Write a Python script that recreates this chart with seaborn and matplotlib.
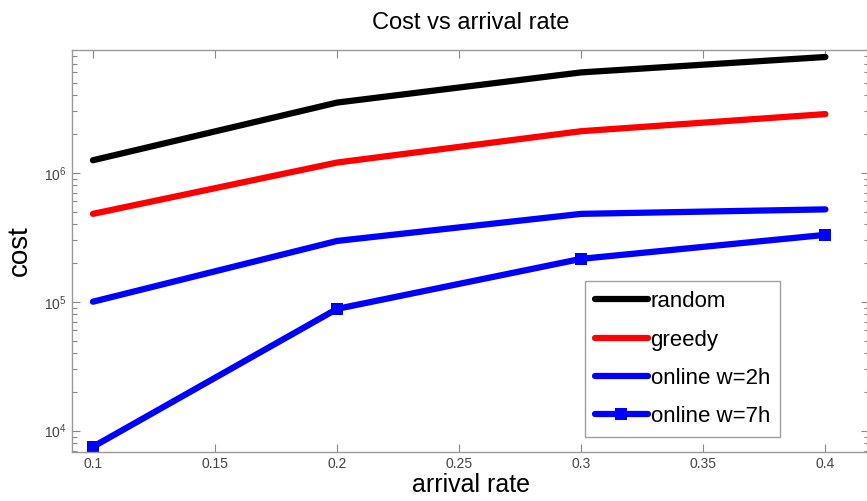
import matplotlib
matplotlib.use("Agg")
import matplotlib.pyplot as plt
import seaborn as sns
import pandas as pd
import numpy as np
from matplotlib.ticker import LogLocator, NullFormatter

arrival_rate = [0.1, 0.2, 0.3, 0.4]
cost_random = [1.25e6, 3.5e6, 6.0e6, 7.9e6]
cost_greedy = [4.8e5, 1.2e6, 2.1e6, 2.85e6]
cost_online_2h = [1.0e5, 2.96e5, 4.8e5, 5.2e5]
cost_online_7h = [7.5e3, 8.8e4, 2.15e5, 3.3e5]
series_names = ["random", "greedy", "online w=2h", "online w=7h"]
x_ticks = [0.1, 0.15, 0.2, 0.25, 0.3, 0.35, 0.4]

sns.set_theme(style="white")
plt.rcParams['font.family'] = ['Liberation Sans', 'DejaVu Sans']

fig = plt.figure(figsize=(8.67, 5.01), dpi=100)
ax = fig.add_axes([0.0827, 0.0984, 0.92, 0.8016])

styles = [
    dict(color="black", marker=None),
    dict(color="#ff0000", marker=None),
    dict(color="#0000ff", marker=None),
    dict(color="#0000ff", marker="s"),
]
all_vals = [cost_random, cost_greedy, cost_online_2h, cost_online_7h]
for name, vals, st in zip(series_names, all_vals, styles):
    df = pd.DataFrame({"arrival rate": arrival_rate, "cost": vals})
    kw = dict(x="arrival rate", y="cost", data=df, ax=ax, color=st["color"],
              linewidth=4.5, label=name)
    if st["marker"]:
        kw.update(marker="s", markersize=9, markeredgewidth=0)
    sns.lineplot(**kw)

ax.set_yscale("log")
ax.set_xlim(0.0913, 0.418)
ax.set_ylim(10**3.837, 10**6.951)
ax.set_xticks(x_ticks)
ax.set_xticklabels([str(t) for t in x_ticks])
ax.yaxis.set_major_locator(LogLocator(base=10, numticks=10))
ax.yaxis.set_minor_locator(LogLocator(base=10, subs=np.arange(2, 10), numticks=20))
ax.yaxis.set_minor_formatter(NullFormatter())

for s in ["left", "bottom", "top", "right"]:
    ax.spines[s].set_color("#999999")
    ax.spines[s].set_linewidth(1.0)
ax.tick_params(axis="both", which="major", direction="in", length=6, width=0.8,
               color="#888888", labelsize=10, labelcolor="#444444",
               top=True, right=True, left=True, bottom=True)
ax.tick_params(axis="y", which="minor", direction="in", length=3.5, width=0.8,
               color="#888888", left=True, right=True)

ax.set_title("Cost vs arrival rate", fontsize=17, pad=15, color="black")
ax.set_xlabel("arrival rate", fontsize=18, labelpad=2, color="black")
ax.set_ylabel("cost", fontsize=20, labelpad=8, color="black")

leg = ax.legend(loc="lower left", bbox_to_anchor=(0.643, 0.036), borderaxespad=0,
                fontsize=16, frameon=True, fancybox=False, handlelength=2.4,
                handletextpad=0.12, labelspacing=0.78, borderpad=0.45)
leg.get_frame().set_edgecolor("#888888")
leg.get_frame().set_linewidth(1.0)
for t in leg.get_texts():
    t.set_color("black")

fig.savefig("out.png", dpi=100, facecolor="white")
